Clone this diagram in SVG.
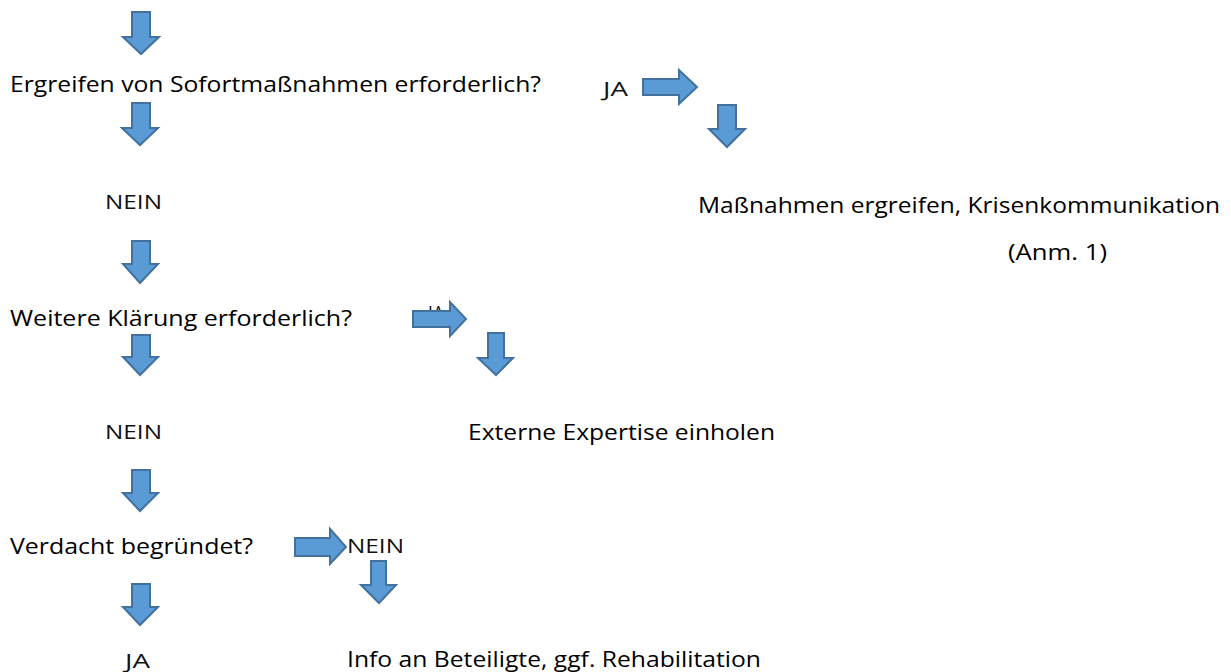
<svg xmlns="http://www.w3.org/2000/svg" width="1231" height="672" viewBox="0 0 1231 672">
<style>
.arr{fill:#5B9BD5;stroke:#41719C;stroke-width:2;stroke-linejoin:miter}
.q{font-family:"Open Sans","Liberation Sans",Arial,sans-serif;font-size:22px;fill:#000}
.s{font-family:"Open Sans","Liberation Sans",sans-serif;font-size:20px;fill:#111}
</style>
<rect width="1231" height="672" fill="#fff"/>
<g id="connectors">
<path class="arr" d="M132,12 H150 V37 H159 L141,54 L123,37 H132 Z"/>
<path class="arr" d="M132,103 H150 V128 H158 L140,145 L122,128 H132 Z"/>
<path class="arr" d="M132,241 H150 V264 H158 L140,283 L123,264 H132 Z"/>
<path class="arr" d="M132,335 H150 V357 H158 L140,375 L123,357 H132 Z"/>
<path class="arr" d="M132,470 H150 V493 H158 L140,511 L123,493 H132 Z"/>
<path class="arr" d="M132,584 H150 V607 H158 L140,625 L123,607 H132 Z"/>
<path class="arr" d="M643,79 H679 V70 L697,87 L679,104 V95 H643 Z"/>
<path class="arr" d="M718,105 H736 V129 H745 L727,147 L709,129 H718 Z"/>
<text class="s" x="428" y="320" textLength="16" lengthAdjust="spacingAndGlyphs">JA</text>
<path class="arr" d="M413,311 H450 V302 L466,319 L450,336 V327 H413 Z"/>
<path class="arr" d="M488,333 H504 V358 H513 L496,375 L478,358 H488 Z"/>
<path class="arr" d="M295,538 H330 V529 L346,547 L330,564 V556 H295 Z"/>
<path class="arr" d="M371,561 H386 V585 H396 L379,603 L361,585 H371 Z"/>
</g>
<g id="q1"><text class="q" x="10" y="92" textLength="531" lengthAdjust="spacingAndGlyphs">Ergreifen von Sofortmaßnahmen erforderlich?</text></g>
<g id="ja1"><text class="s" x="603" y="96" textLength="25" lengthAdjust="spacingAndGlyphs">JA</text></g>
<g id="nein1"><text class="s" x="105" y="209" textLength="57" lengthAdjust="spacingAndGlyphs">NEIN</text></g>
<g id="action1">
<text class="q" x="698" y="213" textLength="522" lengthAdjust="spacingAndGlyphs">Maßnahmen ergreifen, Krisenkommunikation</text>
<text class="q" x="1008" y="260" textLength="99" lengthAdjust="spacingAndGlyphs">(Anm. 1)</text>
</g>
<g id="q2"><text class="q" x="10" y="326" textLength="342" lengthAdjust="spacingAndGlyphs">Weitere Klärung erforderlich?</text></g>
<g id="nein2"><text class="s" x="105" y="439" textLength="57" lengthAdjust="spacingAndGlyphs">NEIN</text></g>
<g id="action2"><text class="q" x="468" y="440" textLength="307" lengthAdjust="spacingAndGlyphs">Externe Expertise einholen</text></g>
<g id="q3"><text class="q" x="10" y="554" textLength="243" lengthAdjust="spacingAndGlyphs">Verdacht begründet?</text></g>
<g id="nein3"><text class="s" x="347" y="553" textLength="57" lengthAdjust="spacingAndGlyphs">NEIN</text></g>
<g id="ja3"><text class="s" x="125" y="668" textLength="25" lengthAdjust="spacingAndGlyphs">JA</text></g>
<g id="action3"><text class="q" x="347" y="667" textLength="414" lengthAdjust="spacingAndGlyphs">Info an Beteiligte, ggf. Rehabilitation</text></g>
</svg>
